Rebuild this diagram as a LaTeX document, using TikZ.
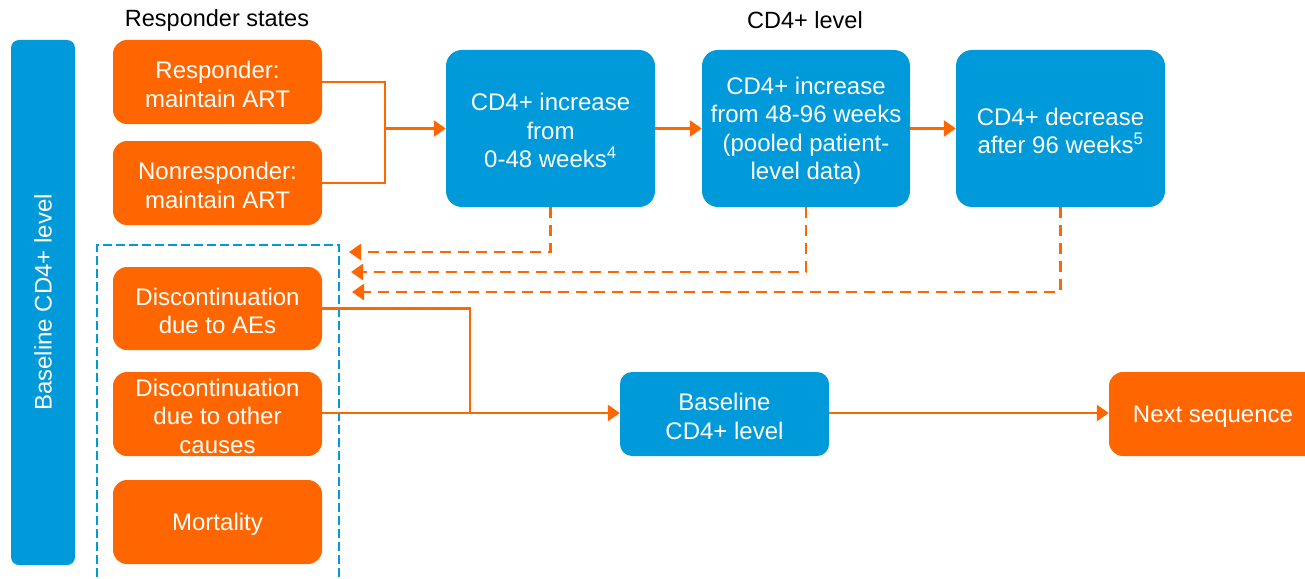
\documentclass[tikz,border=0pt]{standalone}
\usepackage{fontspec}
\setmainfont{Liberation Sans}
\usetikzlibrary{arrows.meta}
\definecolor{orng}{RGB}{255,102,0}
\definecolor{blu}{RGB}{0,153,218}
\tikzset{
  obox/.style={fill=orng, text=white, rounded corners=14pt, inner sep=0pt, align=center,
    minimum width=209pt, minimum height=84pt, font=\fontsize{24}{28.5}\selectfont},
  bbox/.style={fill=blu, text=white, rounded corners=16pt, inner sep=0pt, align=center,
    minimum width=209pt, minimum height=157pt, font=\fontsize{24}{28.5}\selectfont},
  conn/.style={draw=orng, line width=2.5pt},
  arr/.style={conn, -{Triangle[length=12pt,width=16pt]}},
  darr/.style={arr, line width=2.8pt, dash pattern=on 11pt off 7pt},
  bdash/.style={draw=blu, line width=2.2pt, dash pattern=on 9pt off 4pt},
  hdr/.style={font=\fontsize{23.5}{28}\selectfont, inner sep=0pt}
}
\begin{document}
\begin{tikzpicture}[x=1pt,y=-1pt]
\useasboundingbox (0,0) rectangle (1305,578);
% headers
\node[hdr] (h1) at (217,20) {Responder states};
\node[hdr] (h2) at (805,20) {CD4+ level};
% left bar
\node[fill=blu, rounded corners=8pt, minimum width=64pt, minimum height=525pt, inner sep=0pt] (bar) at (43,302.5) {};
\node[rotate=90, text=white, font=\fontsize{24}{28.5}\selectfont] (bartext) at (43,302.5) {Baseline CD4+ level};
% blue dashed group
\draw[bdash] (97,590) |- (339,245) -- (339,590);
% orange boxes
\node[obox] (resp) at (217.5,82) {\rule{0pt}{22pt}Responder:\\maintain ART};
\node[obox] (nonresp) at (217.5,183) {\rule{0pt}{22pt}Nonresponder:\\maintain ART};
\node[obox, minimum height=83pt] (dae) at (217.5,308.5) {\rule{0pt}{22pt}Discontinuation\\due to AEs};
\node[obox] (doth) at (217.5,414) {\rule{0pt}{22pt}Discontinuation\\due to other\\causes};
\node[obox] (mort) at (217.5,522) {\rule{0pt}{22pt}Mortality};
% blue boxes
\node[bbox] (c1) at (550.5,128.5) {\rule{0pt}{22pt}CD4+ increase\\from\\0-48 weeks\textsuperscript{4}};
\node[bbox, minimum width=208pt] (c2) at (806,128.5) {\rule{0pt}{22pt}CD4+ increase\\from 48-96 weeks\\(pooled patient-\\level data)};
\node[bbox] (c3) at (1060.5,128.5) {\rule{0pt}{22pt}CD4+ decrease\\after 96 weeks\textsuperscript{5}};
\node[bbox, minimum height=84pt, rounded corners=12pt] (base) at (724.5,414) {\rule{0pt}{22pt}Baseline\\CD4+ level};
\node[obox, minimum width=210pt] (next) at (1214,414) {\rule{0pt}{22pt}\hspace*{-2pt}Next sequence};
% connectors
\coordinate (m) at (385,128.5);
\draw[conn] (resp.east) -| (m);
\draw[conn] (nonresp.east) -| (m);
\draw[arr] (m) -- (c1.west);
\draw[arr] (c1.east) -- (c2.west);
\draw[arr] (c2.east) -- (c3.west);
\coordinate (d1) at (349,252);
\coordinate (d2) at (351,272);
\coordinate (d3) at (352,292);
\draw[darr] (c1.south) |- (d1);
\draw[darr] (c2.south) |- (d2);
\draw[darr] (c3.south) |- (d3);
\coordinate (j) at (470,413);
\draw[conn] (dae.east) -| (j);
\draw[arr] (doth.east |- j) -- (base.west |- j);
\draw[arr] (base.east |- j) -- (next.west |- j);
\end{tikzpicture}
\end{document}
